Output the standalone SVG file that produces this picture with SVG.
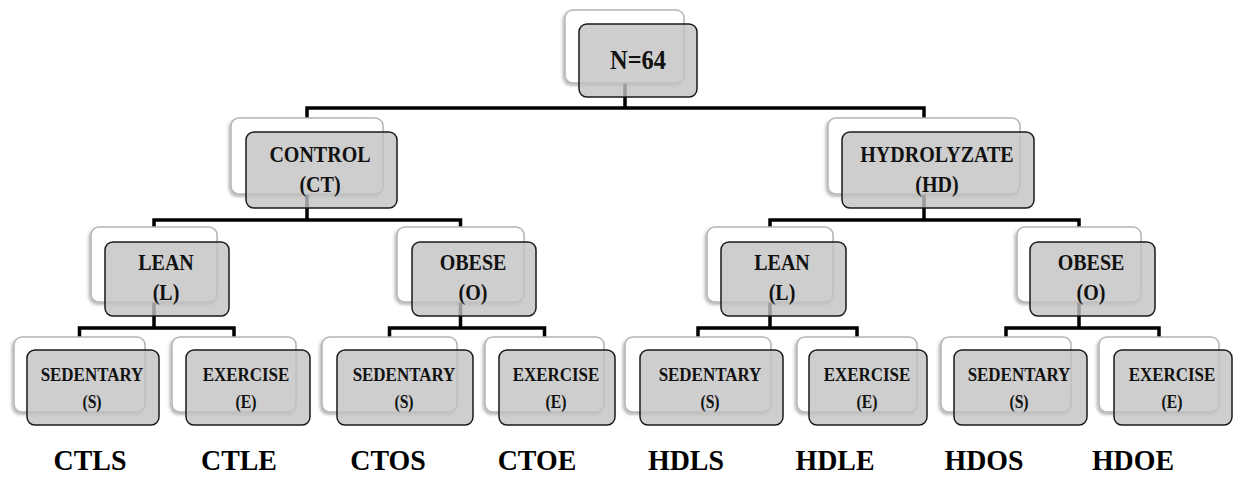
<svg xmlns="http://www.w3.org/2000/svg" width="1234" height="478" viewBox="0 0 1234 478">
<style>
.back{fill:#ffffff;stroke:#b4b4b4;stroke-width:1.5;filter:url(#sh)}
.front{fill:#c2c2c2;fill-opacity:0.8;stroke:#1a1a1a;stroke-width:1.5}
.t{font-family:"Liberation Serif","Times New Roman",serif;font-weight:bold;fill:#111;text-anchor:middle;transform-box:fill-box;transform-origin:center;transform:scaleX(0.87)}
.t25{font-size:28px}
.t20{font-size:23px}
.t17{font-size:19.5px}
.t16{font-size:18px}
.lab{font-family:"Liberation Serif","Times New Roman",serif;font-weight:bold;font-size:30px;fill:#000;text-anchor:middle;transform-box:fill-box;transform-origin:center;transform:scaleX(0.93)}
.c{fill:none;stroke:#000;stroke-width:3.5;stroke-linejoin:miter}
</style>
<defs>
<filter id="sh" x="-10%" y="-10%" width="120%" height="130%">
<feDropShadow dx="-1.5" dy="2" stdDeviation="1.5" flood-color="#000" flood-opacity="0.3"/>
</filter>
</defs>
<rect width="1234" height="478" fill="#fff"/>
<g id="connectors">
<path class="c" d="M625,83 V108 M307,118 V108 H924 V118"/>
<path class="c" d="M307,194 V220 M154,227 V220 H460.5 V227"/>
<path class="c" d="M924,194 V220 M770,227 V220 H1079 V227"/>
<path class="c" d="M154,302 V328 M79.5,337 V328 H234 V337"/>
<path class="c" d="M460.5,302 V328 M389.5,337 V328 H544.5 V337"/>
<path class="c" d="M770,302 V328 M698,337 V328 H857 V337"/>
<path class="c" d="M1079,302 V328 M1006,337 V328 H1159 V337"/>
</g>
<g id="root">
<rect class="back" x="565" y="10" width="119" height="73" rx="8"/>
<rect class="front" x="579" y="24" width="118" height="73" rx="8"/>
<text class="t t25" x="638" y="69">N=64</text>
</g>
<g id="control">
<rect class="back" x="231" y="118" width="152" height="76" rx="8"/>
<rect class="front" x="246" y="132" width="151" height="76" rx="8"/>
<text class="t t20" x="320" y="162">CONTROL</text>
<text class="t t20" x="320" y="192">(CT)</text>
</g>
<g id="hydrolyzate">
<rect class="back" x="828" y="118" width="192" height="76" rx="8"/>
<rect class="front" x="842" y="132" width="192" height="76" rx="8"/>
<text class="t t20" x="937" y="162">HYDROLYZATE</text>
<text class="t t20" x="937" y="192">(HD)</text>
</g>
<g id="ct-lean">
<rect class="back" x="91" y="227" width="126" height="75" rx="8"/>
<rect class="front" x="105" y="242" width="124" height="74" rx="8"/>
<text class="t t20" x="166" y="270">LEAN</text>
<text class="t t20" x="166" y="300">(L)</text>
</g>
<g id="ct-obese">
<rect class="back" x="397" y="227" width="127" height="75" rx="8"/>
<rect class="front" x="412" y="242" width="124" height="74" rx="8"/>
<text class="t t20" x="473" y="270">OBESE</text>
<text class="t t20" x="473" y="300">(O)</text>
</g>
<g id="hd-lean">
<rect class="back" x="707" y="227" width="126" height="75" rx="8"/>
<rect class="front" x="721" y="242" width="125" height="74" rx="8"/>
<text class="t t20" x="782" y="270">LEAN</text>
<text class="t t20" x="782" y="300">(L)</text>
</g>
<g id="hd-obese">
<rect class="back" x="1017" y="227" width="124" height="75" rx="8"/>
<rect class="front" x="1030" y="242" width="125" height="74" rx="8"/>
<text class="t t20" x="1091" y="270">OBESE</text>
<text class="t t20" x="1091" y="300">(O)</text>
</g>
<g id="ctls">
<rect class="back" x="14" y="337" width="131" height="75" rx="8"/>
<rect class="front" x="27" y="350" width="132" height="75" rx="8"/>
<text class="t t17" x="92" y="381">SEDENTARY</text>
<text class="t t16" x="92" y="408">(S)</text>
</g>
<g id="ctle">
<rect class="back" x="172" y="337" width="124" height="75" rx="8"/>
<rect class="front" x="186" y="350" width="124" height="75" rx="8"/>
<text class="t t17" x="246" y="381">EXERCISE</text>
<text class="t t16" x="246" y="408">(E)</text>
</g>
<g id="ctos">
<rect class="back" x="322" y="337" width="135" height="75" rx="8"/>
<rect class="front" x="337" y="350" width="136" height="75" rx="8"/>
<text class="t t17" x="404" y="381">SEDENTARY</text>
<text class="t t16" x="404" y="408">(S)</text>
</g>
<g id="ctoe">
<rect class="back" x="485" y="337" width="119" height="75" rx="8"/>
<rect class="front" x="499" y="350" width="116" height="75" rx="8"/>
<text class="t t17" x="556" y="381">EXERCISE</text>
<text class="t t16" x="556" y="408">(E)</text>
</g>
<g id="hdls">
<rect class="back" x="625" y="337" width="146" height="75" rx="8"/>
<rect class="front" x="640" y="350" width="143" height="75" rx="8"/>
<text class="t t17" x="710" y="381">SEDENTARY</text>
<text class="t t16" x="710" y="408">(S)</text>
</g>
<g id="hdle">
<rect class="back" x="797" y="337" width="120" height="75" rx="8"/>
<rect class="front" x="809" y="350" width="118" height="75" rx="8"/>
<text class="t t17" x="867" y="381">EXERCISE</text>
<text class="t t16" x="867" y="408">(E)</text>
</g>
<g id="hdos">
<rect class="back" x="941" y="337" width="130" height="75" rx="8"/>
<rect class="front" x="954" y="350" width="133" height="75" rx="8"/>
<text class="t t17" x="1019" y="381">SEDENTARY</text>
<text class="t t16" x="1019" y="408">(S)</text>
</g>
<g id="hdoe">
<rect class="back" x="1099" y="337" width="120" height="75" rx="8"/>
<rect class="front" x="1114" y="350" width="118" height="75" rx="8"/>
<text class="t t17" x="1172" y="381">EXERCISE</text>
<text class="t t16" x="1172" y="408">(E)</text>
</g>
<g id="labels">
<text class="lab" x="90" y="470">CTLS</text>
<text class="lab" x="239" y="470">CTLE</text>
<text class="lab" x="388" y="470">CTOS</text>
<text class="lab" x="537" y="470">CTOE</text>
<text class="lab" x="686" y="470">HDLS</text>
<text class="lab" x="835" y="470">HDLE</text>
<text class="lab" x="984" y="470">HDOS</text>
<text class="lab" x="1133" y="470">HDOE</text>
</g>
</svg>
